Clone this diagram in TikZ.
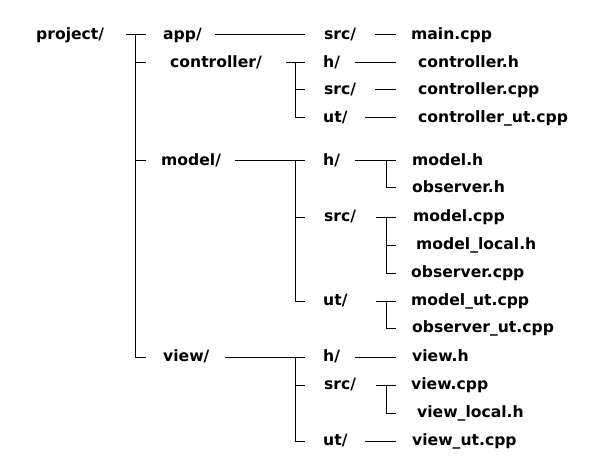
\documentclass[tikz,border=0pt]{standalone}
\usepackage{fontspec}
\setmainfont{DejaVu Sans}
\newcommand{\fnt}{\fontsize{15.6}{18}\selectfont\bfseries}
\begin{document}
\begin{tikzpicture}[x=1pt,y=-1pt,
  lbl/.style={anchor=base west,inner sep=0pt,font=\fnt,yshift=-4.7pt},
  conn/.style={line width=1pt}]
\fill[white] (0,0) rectangle (600,476);
\useasboundingbox (0,0) rectangle (600,476);
% level 0/1
\node[lbl] (project) at (36,35) {project/};
\node[lbl] (app) at (163,35) {app/};
\node[lbl] (controller) at (170,63) {controller/};
\node[lbl] (model) at (161,161) {model/};
\node[lbl] (view) at (163,357) {view/};
% level 2
\node[lbl] (appsrc) at (324,35) {src/};
\node[lbl] (ch) at (323,63) {h/};
\node[lbl] (csrc) at (324,90) {src/};
\node[lbl] (cut) at (323,118) {ut/};
\node[lbl] (mh) at (323,161) {h/};
\node[lbl] (msrc) at (324,217) {src/};
\node[lbl] (mut) at (323,301) {ut/};
\node[lbl] (vh) at (323,357) {h/};
\node[lbl] (vsrc) at (324,385) {src/};
\node[lbl] (vut) at (323,441) {ut/};
% files
\node[lbl] (maincpp) at (411,35) {main.cpp};
\node[lbl] (controllerh) at (418,63) {controller.h};
\node[lbl] (controllercpp) at (418,90) {controller.cpp};
\node[lbl] (controllerut) at (418,118) {controller\_ut.cpp};
\node[lbl] (modelh) at (412,161) {model.h};
\node[lbl] (observerh) at (412,188) {observer.h};
\node[lbl] (modelcpp) at (413,217) {model.cpp};
\node[lbl] (modellocal) at (416,245) {model\_local.h};
\node[lbl] (observercpp) at (411,273) {observer.cpp};
\node[lbl] (modelut) at (411,301) {model\_ut.cpp};
\node[lbl] (observerut) at (412,328) {observer\_ut.cpp};
\node[lbl] (viewh) at (412,357) {view.h};
\node[lbl] (viewcpp) at (411,385) {view.cpp};
\node[lbl] (viewlocal) at (417,413) {view\_local.h};
\node[lbl] (viewut) at (412,441) {view\_ut.cpp};
% junction coordinates
\coordinate (p0) at (126,35);
\coordinate (pt) at (135,35);
\coordinate (pe) at (146,35);
\coordinate (pb) at (135,357);
\coordinate (pbe) at (146,357);
% project tree
\draw[conn] (p0) -- (pe);
\draw[conn] (pt) -- (pb) -- (pbe);
\draw[conn] (135,63) -- (146,63);
\draw[conn] (135,161) -- (146,161);
% app
\draw[conn] (215,35) -- (305,35);
\draw[conn] (375,35) -- (396,35);
% controller
\draw[conn] (286,63) -- (305,63);
\draw[conn] (295,63) -- (295,118) -- (305,118);
\draw[conn] (295,90) -- (305,90);
\draw[conn] (355,63) -- (396,63);
\draw[conn] (375,90) -- (396,90);
\draw[conn] (365,118) -- (396,118);
% model
\draw[conn] (235,161) -- (305,161);
\draw[conn] (295,161) -- (295,301) -- (305,301);
\draw[conn] (295,217) -- (305,217);
\draw[conn] (355,161) -- (396,161);
\draw[conn] (386,161) -- (386,188) -- (396,188);
\draw[conn] (376,217) -- (396,217);
\draw[conn] (386,217) -- (386,273) -- (396,273);
\draw[conn] (386,245) -- (396,245);
\draw[conn] (376,301) -- (396,301);
\draw[conn] (386,301) -- (386,328) -- (396,328);
% view
\draw[conn] (225,357) -- (305,357);
\draw[conn] (295,357) -- (295,441) -- (305,441);
\draw[conn] (295,385) -- (305,385);
\draw[conn] (355,357) -- (396,357);
\draw[conn] (376,385) -- (396,385);
\draw[conn] (386,385) -- (386,413) -- (396,413);
\draw[conn] (365,441) -- (396,441);
\end{tikzpicture}
\end{document}
